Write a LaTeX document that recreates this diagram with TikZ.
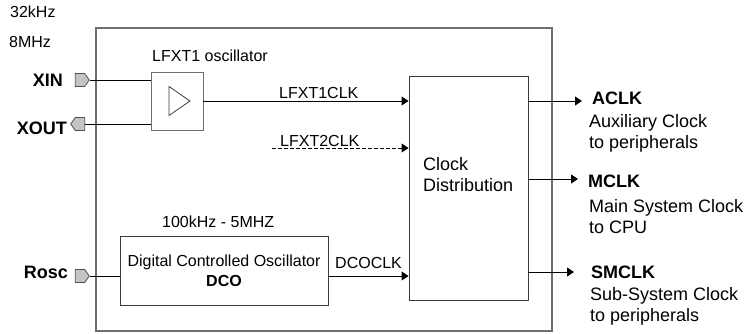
\documentclass[tikz,border=0pt]{standalone}
\usepackage{fontspec}
\setmainfont{Liberation Sans}
\usetikzlibrary{positioning,arrows.meta,shapes.symbols}
\definecolor{marco}{HTML}{6E6E6E}
\definecolor{borde}{HTML}{3C3C3C}
\definecolor{puerto}{HTML}{C4C4C4}

\begin{document}
\begin{tikzpicture}[x=1pt, y=-1pt, font=\fontsize{16}{20}\selectfont,
  txt/.style={inner sep=0pt, anchor=base west},
  big/.style={font=\fontsize{18}{21}\selectfont},
  nombre/.style={inner sep=0pt, font=\fontsize{18}{21}\selectfont\bfseries},
  caja/.style={draw=borde, line width=0.9pt, inner sep=0pt},
  port/.style={signal, draw=borde!90, fill=puerto, line width=0.8pt, inner sep=0pt,
    minimum width=14pt, minimum height=13pt, signal pointer angle=110},
  ln/.style={line width=0.9pt},
  fl/.style={line width=0.9pt, -{Triangle[length=7pt,width=9pt]}}]
  \useasboundingbox (0,0) rectangle (753,333);
  % chip outline and blocks
  \node[draw=marco, line width=2pt, minimum width=456pt, minimum height=303pt] (chip) at (324,179.5) {};
  \node[caja, draw=marco, minimum width=52pt, minimum height=58pt] (osc) at (177,101) {};
  \draw[draw=borde, line width=0.8pt] ([xshift=-8pt,yshift=14.5pt]osc.center) -- ([xshift=13pt]osc.center)
    -- ([xshift=-8pt,yshift=-14.5pt]osc.center) -- cycle;
  \node[caja, minimum width=119pt, minimum height=224pt] (dist) at (468.5,188) {};
  \node[caja, minimum width=208pt, minimum height=69pt, align=center] (dco) at (224,270.5)
    {Digital Controlled Oscillator\\\textbf{DCO}};
  % pins
  \node[port, signal to=east] (xin)  at (80,80)  {};
  \node[port, signal to=west] (xout) at (80,124) {};
  \node[port, signal to=east] (rosc) at (80,276) {};
  \coordinate (lf2)   at (272,148);
  \coordinate (aclk)  at (582,101);
  \coordinate (mclk)  at (578,179);
  \coordinate (smclk) at (574,272);
  % connections
  \draw[ln] (xin.east) -- (xin.east -| osc.west);
  \draw[ln] (xout.east) -- (xout.east -| osc.west);
  \draw[fl] (osc.east) -- (osc.east -| dist.west);
  \draw[fl, dash pattern=on 3.5pt off 2.5pt] (lf2) -- (lf2 -| dist.west);
  \draw[ln] (rosc.east) -- (rosc.east -| dco.west);
  \draw[fl] (rosc.east -| dco.east) -- (rosc.east -| dist.west);
  \draw[fl] (aclk -| dist.east) -- (aclk);
  \draw[fl] (mclk -| dist.east) -- (mclk);
  \draw[fl] (smclk -| dist.east) -- (smclk);
  % labels
  \node[txt] (f32) at (10,17) {32kHz};
  \node[txt] (f8)  at (9,47)  {8MHz};
  \node[nombre, anchor=base east] (lxin)  at (63,86)  {XIN};
  \node[nombre, anchor=base east] (lxout) at (67,134) {XOUT};
  \node[nombre, anchor=base east] (lrosc) at (68,278) {Rosc};
  \node[txt] (losc) at (152,61)  {LFXT1 oscillator};
  \node[txt] (lrng) at (162,227) {100kHz - 5MHZ};
  \node[txt] (lclk1) at (279,98)  {LFXT1CLK};
  \node[txt] (lclk2) at (280,146) {LFXT2CLK};
  \node[txt] (ldco)  at (335,268) {DCOCLK};
  \node[txt, big, align=left] (ldist) at (423,191) {Clock\\Distribution};
  \node[nombre, anchor=base west] (naclk)  at (592,104) {ACLK};
  \node[txt, big, align=left] (daclk)  at (589,148) {Auxiliary Clock\\to peripherals};
  \node[nombre, anchor=base west] (nmclk)  at (588,187) {MCLK};
  \node[txt, big, align=left] (dmclk)  at (589,233) {Main System Clock\\to CPU};
  \node[nombre, anchor=base west] (nsmclk) at (591,278) {SMCLK};
  \node[txt, big, align=left] (dsmclk) at (590,321) {Sub-System Clock\\to peripherals};
\end{tikzpicture}
\end{document}
